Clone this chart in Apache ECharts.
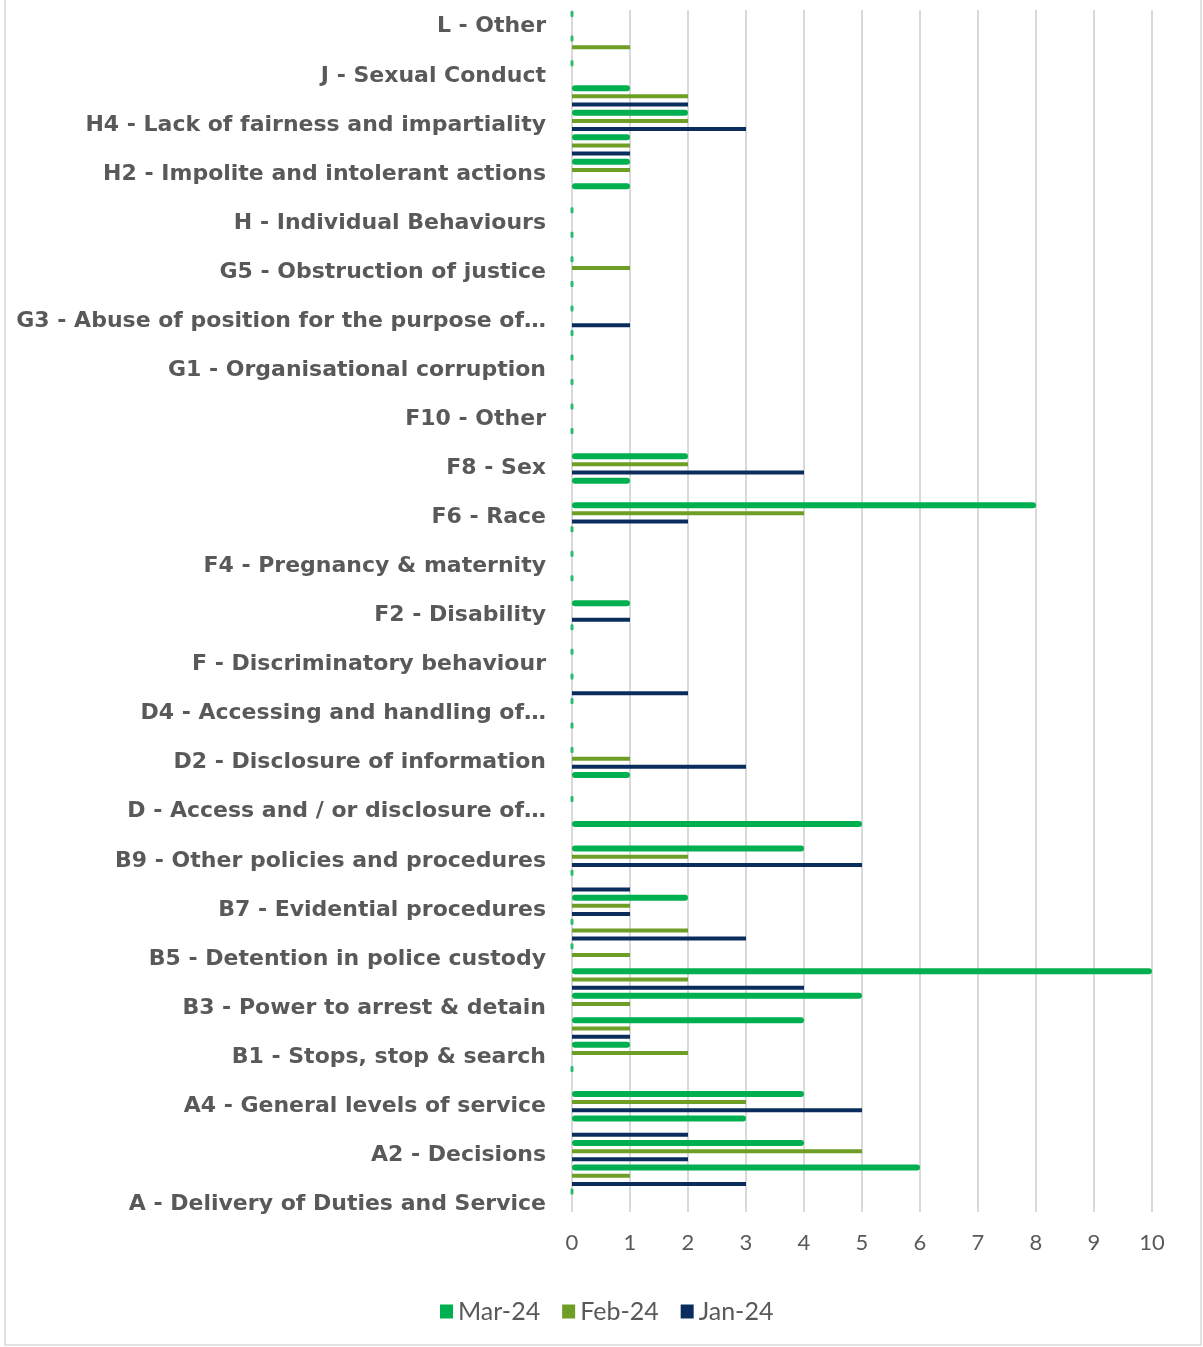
<!DOCTYPE html>
<html>
<head>
<meta charset="utf-8">
<script src="https://cdn.jsdelivr.net/npm/echarts@6/dist/echarts.min.js"></script>
<style>
html,body{margin:0;padding:0;background:#fff;}
#chart{width:1203px;height:1347px;}
</style>
</head>
<body>
<div id="chart"></div>
<script>
// Categories from bottom (index 0) to top
const categories = [
  "A - Delivery of Duties and Service",
  "A1 - Police action following contact",
  "A2 - Decisions",
  "A3 - Information",
  "A4 - General levels of service",
  "B - Police powers, policies and procedures",
  "B1 - Stops, stop & search",
  "B2 - Searches of premises and seizure of property",
  "B3 - Power to arrest & detain",
  "B4 - Use of force",
  "B5 - Detention in police custody",
  "B6 - Bail, identification and interview procedures",
  "B7 - Evidential procedures",
  "B8 - Out of court disposals",
  "B9 - Other policies and procedures",
  "C - Handling of or damage to property / premises",
  "D - Access and / or disclosure of…",
  "D1 - Access to information",
  "D2 - Disclosure of information",
  "D3 - Data protection",
  "D4 - Accessing and handling of…",
  "E - Use of police vehicles",
  "F - Discriminatory behaviour",
  "F1 - Age",
  "F2 - Disability",
  "F3 - Gender reassignment",
  "F4 - Pregnancy & maternity",
  "F5 - Marriage & civil partnership",
  "F6 - Race",
  "F7 - Religion or belief",
  "F8 - Sex",
  "F9 - Sexual orientation",
  "F10 - Other",
  "G - Abuse of position / corruption",
  "G1 - Organisational corruption",
  "G2 - Abuse of position for financial purpose",
  "G3 - Abuse of position for the purpose of…",
  "G4 - Abuse of position for other purpose",
  "G5 - Obstruction of justice",
  "G6 - Other",
  "H - Individual Behaviours",
  "H1 - Overbearing or harassing behaviours",
  "H2 - Impolite and intolerant actions",
  "H3 - Unprofessional attitude and disrespect",
  "H4 - Lack of fairness and impartiality",
  "H5 - Other",
  "J - Sexual Conduct",
  "K - Discreditable conduct",
  "L - Other"
];
const mar24 = [0,6,4,3,4,0,1,4,5,10,0,0,2,0,4,5,0,1,0,0,0,0,0,0,1,0,0,0,8,1,2,0,0,0,0,0,0,0,0,0,0,1,1,1,2,1,0,0,0];
const feb24 = [0,1,5,0,3,0,2,1,1,2,1,2,1,0,2,0,0,0,1,0,0,0,0,0,0,0,0,0,4,0,2,0,0,0,0,0,0,0,1,0,0,0,1,1,2,2,0,1,0];
const jan24 = [0,3,2,2,5,0,0,1,0,4,0,3,1,1,5,0,0,0,3,0,0,2,0,0,1,0,0,0,2,0,4,0,0,0,0,0,1,0,0,0,0,0,0,1,3,2,0,0,0];
const seriesNames = ["Mar-24","Feb-24","Jan-24"];
const seriesColors = ["#00B050","#6E9E25","#0B2D5E"];

const chart = echarts.init(document.getElementById('chart'), null, {renderer:'canvas'});
const labelFont = {fontFamily: 'DejaVu Sans', fontWeight: 'bold', fontSize: 22, color: '#595959'};

const option = {
  animation: false,
  backgroundColor: '#ffffff',
  grid: {left: 572, right: 51, top: 10, bottom: 135},
  xAxis: {
    type: 'value', min: 0, max: 10, interval: 1,
    axisLine: {show: false}, axisTick: {show: false},
    splitLine: {show: true, lineStyle: {color: '#D9D9D9', width: 2}},
    axisLabel: {fontFamily: 'Lato', fontSize: 22, color: '#595959', margin: 20}
  },
  yAxis: {
    type: 'category', data: categories,
    axisLine: {show: false}, axisTick: {show: false},
    axisLabel: Object.assign({
      interval: 1, margin: 26,
      formatter: v => '{t|' + v + '}',
      rich: {t: Object.assign({padding: [9, 0, 0, 0]}, labelFont)}
    }, labelFont)
  },
  legend: {
    data: seriesNames, left: 435, top: 1294, icon: 'rect', itemWidth: 13, itemHeight: 14, itemGap: 22,
    textStyle: {fontFamily: 'Lato', fontSize: 25, color: '#595959'}
  },
  graphic: [{
    type: 'rect', shape: {x: 5, y: -2, width: 1196, height: 1347},
    style: {fill: 'none', stroke: '#D9D9D9', lineWidth: 1.5}, silent: true
  }],
  series: [
    {name: seriesNames[0], type: 'bar', data: mar24, barWidth: 6, barGap: '53%',
     itemStyle: {color: seriesColors[0], borderRadius: 3}},
    {name: seriesNames[1], type: 'bar', data: feb24, barWidth: 4,
     itemStyle: {color: seriesColors[1]}},
    {name: 'spacer', type: 'bar', data: [], barWidth: 1.35, silent: true, tooltip: {show: false}},
    {name: seriesNames[2], type: 'bar', data: jan24, barWidth: 4,
     itemStyle: {color: seriesColors[2]}},
    {name: 'Mar-24 zero', type: 'scatter', silent: true, z: 3,
     data: mar24.map((v, i) => v === 0 ? [0, i] : null).filter(d => d),
     symbol: 'roundRect', symbolSize: [3, 6], symbolOffset: [0, -8.2],
     itemStyle: {color: seriesColors[0]}}
  ]
};
chart.setOption(option);
</script>
</body>
</html>
